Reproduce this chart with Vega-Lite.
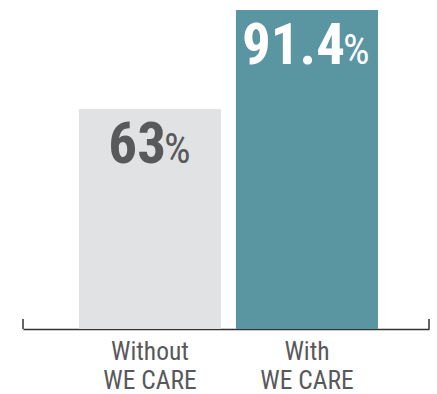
{
  "$schema": "https://vega.github.io/schema/vega-lite/v6.json",
  "width": 406,
  "height": 319,
  "autosize": "none",
  "padding": {"left": 23, "top": 10, "right": 8, "bottom": 65},
  "background": "#ffffff",
  "config": {"view": {"stroke": null}, "font": "Roboto Condensed, Roboto, sans-serif"},
  "datasets": {
    "bars": [
      {"group": "Without WE CARE", "value": 63},
      {"group": "With WE CARE", "value": 91.4}
    ],
    "ends": [
      {"pos": 0, "lo": 0, "hi": 2.86},
      {"pos": 1, "lo": 0, "hi": 2.86}
    ]
  },
  "resolve": {"scale": {"x": "independent"}},
  "layer": [
    {
      "layer": [
        {
          "data": {"name": "bars"},
          "mark": {"type": "bar"},
          "encoding": {
            "x": {
              "field": "group", "type": "nominal", "sort": null,
              "scale": {"paddingInner": 0.0955, "paddingOuter": 0.3405, "align": 0.523},
              "axis": {
                "title": null, "ticks": false, "grid": false,
                "domainColor": "#333333", "domainWidth": 1.5,
                "labelAngle": 0, "labelFontSize": 25.5, "labelColor": "#58595b",
                "labelFont": "Roboto Condensed, Roboto, sans-serif",
                "labelBaseline": "alphabetic", "labelPadding": 30, "labelLineHeight": 29.5,
                "labelExpr": "[slice(datum.label, 0, indexof(datum.label, ' ')), slice(datum.label, indexof(datum.label, ' ') + 1)]"
              }
            },
            "y": {"field": "value", "type": "quantitative", "scale": {"domain": [0, 91.4], "nice": false}, "axis": null},
            "color": {"field": "group", "type": "nominal", "scale": {"domain": ["Without WE CARE", "With WE CARE"], "range": ["#e1e2e4", "#5a95a2"]}, "legend": null}
          }
        },
        {
          "data": {"name": "bars"},
          "mark": {"type": "text", "align": "right", "baseline": "alphabetic", "dy": 54, "fontSize": 57, "fontWeight": "bold",
                   "font": "Roboto Condensed, Roboto, sans-serif",
                   "dx": {"expr": "length(toString(datum.value)) * 11 - 6"}},
          "encoding": {
            "x": {"field": "group", "type": "nominal", "sort": null},
            "y": {"field": "value", "type": "quantitative"},
            "text": {"field": "value", "type": "nominal"},
            "color": {"field": "group", "type": "nominal", "scale": {"domain": ["Without WE CARE", "With WE CARE"], "range": ["#58595b", "#ffffff"]}, "legend": null}
          }
        },
        {
          "data": {"name": "bars"},
          "mark": {"type": "text", "align": "left", "baseline": "alphabetic", "dy": 54, "fontSize": 42, "fontWeight": "normal",
                   "font": "Roboto Condensed, Roboto, sans-serif",
                   "dx": {"expr": "length(toString(datum.value)) * 11 - 8"}, "text": "%"},
          "encoding": {
            "x": {"field": "group", "type": "nominal", "sort": null},
            "y": {"field": "value", "type": "quantitative"},
            "color": {"field": "group", "type": "nominal", "scale": {"domain": ["Without WE CARE", "With WE CARE"], "range": ["#58595b", "#ffffff"]}, "legend": null}
          }
        }
      ],
      "resolve": {"scale": {"color": "independent"}}
    },
    {
      "data": {"name": "ends"},
      "mark": {"type": "rule", "color": "#333333", "strokeWidth": 1.5},
      "encoding": {
        "x": {"field": "pos", "type": "quantitative", "scale": {"domain": [0, 1], "nice": false, "zero": false}, "axis": null},
        "y": {"field": "lo", "type": "quantitative"},
        "y2": {"field": "hi"}
      }
    }
  ]
}
